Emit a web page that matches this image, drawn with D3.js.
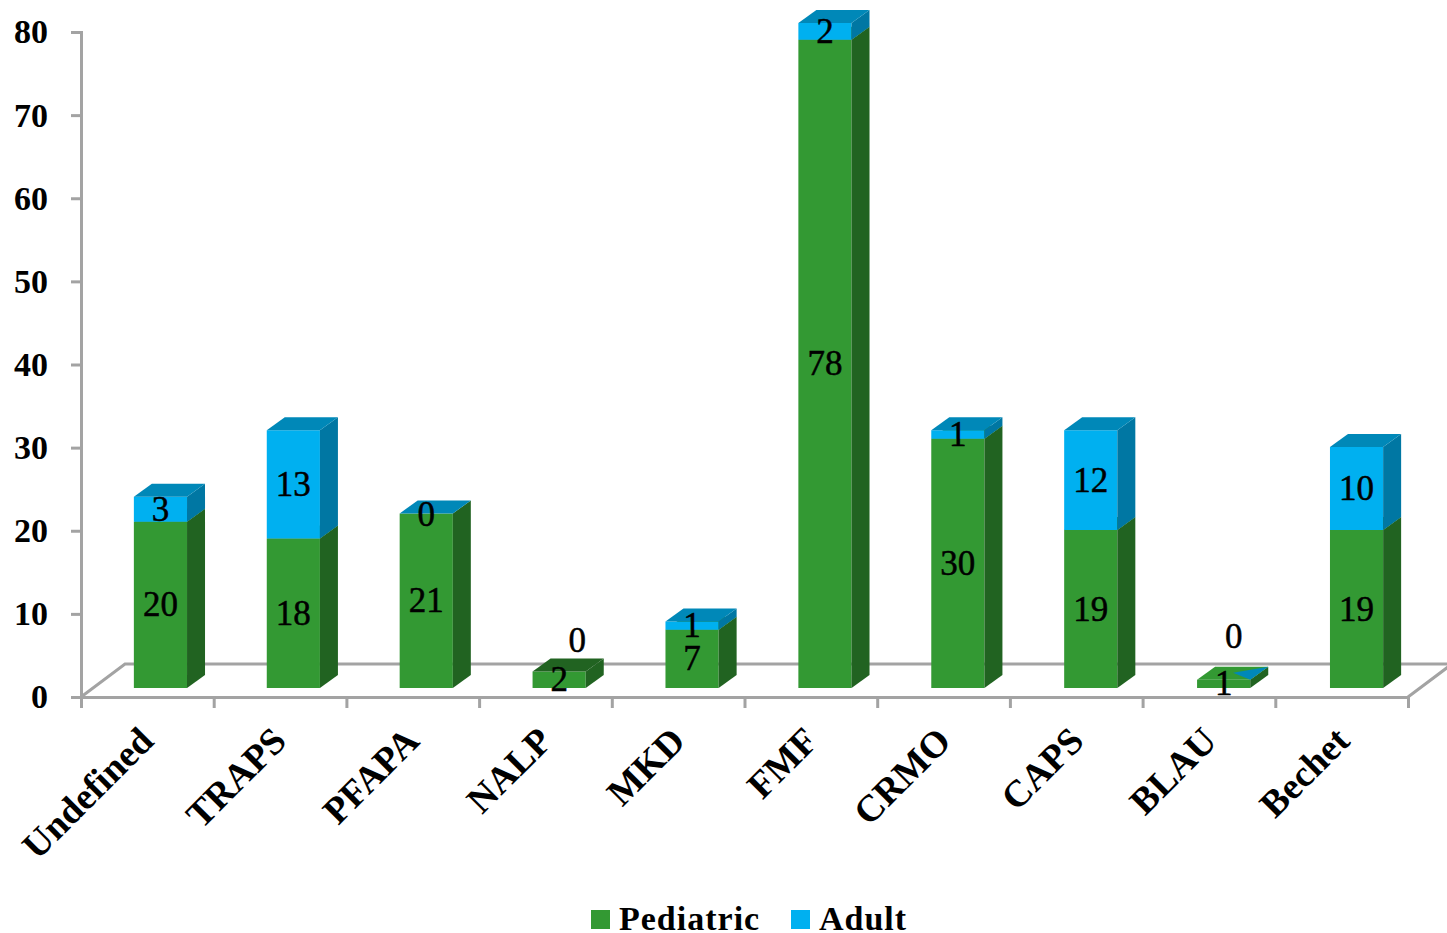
<!DOCTYPE html>
<html>
<head>
<meta charset="utf-8">
<script src="https://cdn.jsdelivr.net/npm/d3@7"></script>
<style>
  html, body { margin: 0; padding: 0; background: #fff; }
  svg { display: block; font-family: "Liberation Serif", serif; }
</style>
</head>
<body>
<div id="chart"></div>
<script>
const categories = ["Undefined", "TRAPS", "PFAPA", "NALP", "MKD", "FMF", "CRMO", "CAPS", "BLAU", "Bechet"];
const pediatric = [20, 18, 21, 2, 7, 78, 30, 19, 1, 19];
const adult = [3, 13, 0, 0, 1, 2, 1, 12, 0, 10];
const yTicks = [0, 10, 20, 30, 40, 50, 60, 70, 80];
const seriesNames = ["Pediatric", "Adult"];

const width = 1447, height = 933;
const greens = { front: "#339933", side: "#216321", top: "#2b822b" };
const blues = { front: "#00b0f0", side: "#0077a3", top: "#0088b8" };
const axisGrey = "#a3a3a3";

// the 3d look, offsets of floor and bar depth
const floorDx = 44, floorDy = 33;
const barDx = 18, barDy = 13, barLift = 9, barShift = 13;

const svg = d3.select("#chart").append("svg")
  .attr("width", width)
  .attr("height", height);

const y = d3.scaleLinear().domain([0, 80]).range([697, 32]);
const x = d3.scaleBand().domain(categories).range([81, 1410]).paddingInner(0.6).paddingOuter(0.3);
const xEdges = d3.scaleLinear().domain([0, categories.length]).range([81, 1408]);

// floor
svg.append("path")
  .attr("d", `M${xEdges(0)},${y(0)}L${xEdges(0) + floorDx},${y(0) - floorDy}H${width + 2}`
    + `M${xEdges(10)},${y(0)}L${xEdges(10) + floorDx},${y(0) - floorDy}`)
  .attr("fill", "none")
  .attr("stroke", axisGrey)
  .attr("stroke-width", 3);

// axes
const yAxis = svg.append("g")
  .attr("transform", `translate(${xEdges(0)},0)`)
  .call(d3.axisLeft(y).tickValues(yTicks).tickSize(10).tickPadding(23));

const xAxis = svg.append("g")
  .attr("transform", `translate(0,${y(0)})`)
  .call(d3.axisBottom(xEdges).tickValues(d3.range(categories.length + 1)).tickSize(11).tickFormat(""));

svg.selectAll(".domain, .tick line")
  .attr("stroke", axisGrey)
  .attr("stroke-width", 3);

yAxis.selectAll("text")
  .attr("font-size", 34)
  .attr("font-weight", "bold")
  .attr("font-family", "Liberation Serif")
  .attr("dy", "0.32em")
  .attr("fill", "#000");

// bars
function box(g, left, top, bottom, col, topCol) {
  const right = left + x.bandwidth();
  g.append("polygon")
    .attr("points", [[left, top], [right, top], [right, bottom], [left, bottom]].join(" "))
    .attr("fill", col.front);
  g.append("polygon")
    .attr("points", [[right, top], [right + barDx, top - barDy], [right + barDx, bottom - barDy], [right, bottom]].join(" "))
    .attr("fill", col.side);
  g.append("polygon")
    .attr("points", [[left, top], [left + barDx, top - barDy], [right + barDx, top - barDy], [right, top]].join(" "))
    .attr("fill", topCol || col.top);
}

const barY = v => y(v) - barLift;

categories.forEach((c, i) => {
  const g = svg.append("g");
  const left = x(c) + barShift;
  const p = pediatric[i], a = adult[i];
  // top face of a stack with no adult part differs per bar in the original
  const emptyTop = c === "NALP" ? greens.side : c === "BLAU" ? greens.front : blues.top;
  box(g, left, barY(p), barY(0), greens, a === 0 ? emptyTop : null);
  if (a > 0) box(g, left, barY(p + a), barY(p), blues);
  if (c === "BLAU") {
    const right = left + x.bandwidth(), t = barY(p);
    g.append("polygon")
      .attr("points", [[right, t], [right + barDx, t - barDy], [left + 36, t - 7]].join(" "))
      .attr("fill", blues.top);
  }
});

// data labels, the zero ones were moved by hand in the original
const adultNudge = { NALP: [18, -31], BLAU: [10, -43], PFAPA: [0, 1] };

function dataLabel(c, cy, txt, nudge) {
  const n = nudge[c] || [0, 0];
  svg.append("text")
    .attr("x", x(c) + barShift + x.bandwidth() / 2 + n[0])
    .attr("y", cy + n[1])
    .attr("dy", "0.33em")
    .attr("text-anchor", "middle")
    .attr("font-size", 35)
    .attr("stroke", "#000")
    .attr("stroke-width", 0.5)
    .attr("fill", "#000")
    .text(txt);
}

categories.forEach((c, i) => {
  const p = pediatric[i], a = adult[i];
  dataLabel(c, barY(p / 2), p, {});
  dataLabel(c, barY(p + a / 2), a, adultNudge);
});

// category labels
svg.append("g").selectAll("text")
  .data(categories)
  .join("text")
  .attr("transform", d => `translate(${x(d) + x.bandwidth() / 2 + 8},${y(0) + 46}) rotate(-45)`)
  .attr("text-anchor", "end")
  .attr("font-size", 37.5)
  .attr("font-weight", "bold")
  .attr("fill", "#000")
  .text(d => d);

// legend
const legend = svg.append("g");
const legendX = [591, 791];
seriesNames.forEach((name, i) => {
  legend.append("rect")
    .attr("x", legendX[i])
    .attr("y", 910)
    .attr("width", 19)
    .attr("height", 19)
    .attr("fill", i === 0 ? greens.front : blues.front);
  legend.append("text")
    .attr("x", legendX[i] + 28)
    .attr("y", 930)
    .attr("font-size", 34)
    .attr("font-weight", "bold")
    .attr("letter-spacing", 1)
    .attr("fill", "#000")
    .text(name);
});
</script>
</body>
</html>
